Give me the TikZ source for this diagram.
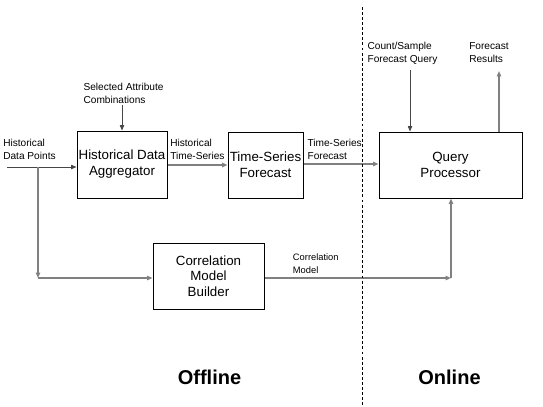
\documentclass[tikz,border=0pt]{standalone}
\usepackage{fontspec}
\setmainfont{Liberation Sans}
\usetikzlibrary{arrows.meta}
\begin{document}
\begin{tikzpicture}[x=0.75pt,y=-0.75pt,
  box/.style={draw=black,line width=0.75pt,align=center,inner sep=1pt,font=\fontsize{10}{12}\selectfont},
  lbl/.style={anchor=north west,inner sep=0pt,align=left,font=\fontsize{7.6}{9.6}\selectfont},
  flow/.style={draw={rgb,255:red,128;green,128;blue,128},line width=1.1pt,-{Triangle[length=4pt,width=3.2pt]}},
  flowd/.style={draw={rgb,255:red,70;green,70;blue,70},line width=0.6pt,-{Triangle[length=4pt,width=3.2pt]}},
  side/.style={font=\fontsize{15}{18}\selectfont\bfseries}]
\useasboundingbox (0,0) rectangle (543,407);
% boxes
\node[box,minimum width=67.5pt,minimum height=50.25pt] (agg) at (122,164.5) {Historical Data\\Aggregator};
\node[box,minimum width=56.25pt,minimum height=49.5pt] (tsf) at (265.5,165) {Time-Series\\Forecast};
\node[box,minimum width=107.25pt,minimum height=49.5pt] (qp) at (450.5,165) {Query\\Processor};
\node[box,minimum width=83.25pt,minimum height=49.5pt,font=\fontsize{10}{11.6}\selectfont] (cmb) at (208.5,276) {Correlation\\Model\\Builder};
% labels
\node[lbl] (lhdp) at (3,139.3) {Historical\\Data Points};
\node[lbl] (lsel) at (83.3,82.7) {Selected Attribute\\Combinations};
\node[lbl] (lhts) at (170,139.3) {Historical\\Time-Series};
\node[lbl] (ltsf) at (307.3,139.3) {Time-Series\\Forecast};
\node[lbl] (lcsq) at (367.3,42) {Count/Sample\\Forecast Query};
\node[lbl] (lfr) at (469,42) {Forecast\\Results};
\node[lbl,font=\fontsize{7}{9.3}\selectfont] (lcm) at (292.7,253.8) {Correlation\\Model};
\node[side] (off) at (209.5,377) {Offline};
\node[side] (on) at (449.5,377) {Online};
% coordinates
\coordinate (in) at (7,167);
\coordinate (br) at (38,167);
\coordinate (c1) at (38,278);
\coordinate (c2) at (451,278);
\coordinate (sel) at (122,105);
\coordinate (csq) at (410,70);
\coordinate (fr) at (499,71);
\coordinate (dtop) at (362,7);
\coordinate (dbot) at (362,405);
% connectors
\draw[flowd] (in) -- (agg.west |- in);
\draw[flow] (br) -- (c1);
\draw[flow] (c1) -- (cmb.west |- c1);
\draw[flowd] (sel) -- (agg.north);
\draw[flow] (agg.east |- 0,165) -- (tsf.west |- 0,165);
\draw[flow] (tsf.east |- 0,164) -- (qp.west |- 0,164);
\draw[flow] (cmb.east |- c2) -- (c2);
\draw[flow] (c2) -- (qp.south -| c2);
\draw[flowd] (csq) -- (qp.north -| csq);
\draw[flow] (qp.north -| fr) -- (fr);
\draw[black,line width=0.75pt,dash pattern=on 2.2pt off 1.6pt] (dtop) -- (dbot);
\end{tikzpicture}
\end{document}
